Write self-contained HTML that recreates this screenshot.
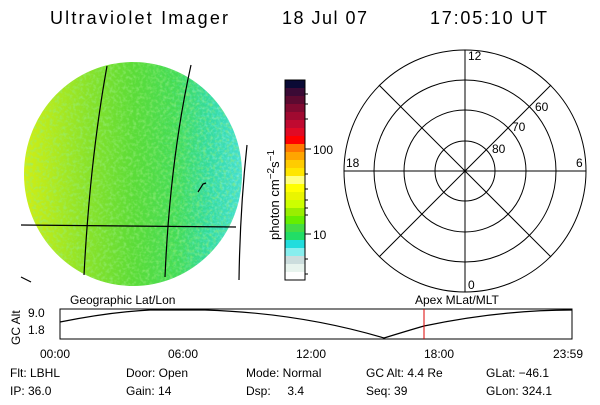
<!DOCTYPE html>
<html><head><style>
html,body{margin:0;padding:0;background:#fff;}
svg text{font-family:"Liberation Sans","DejaVu Sans",sans-serif;}
</style></head><body>
<svg width="600" height="400" xmlns="http://www.w3.org/2000/svg">
<defs>
<linearGradient id="g" x1="0" x2="1" y1="0" y2="0">
<stop offset="0" stop-color="#d0ee14"/>
<stop offset="0.12" stop-color="#b4ea1e"/>
<stop offset="0.3" stop-color="#88e22a"/>
<stop offset="0.5" stop-color="#5cdc38"/>
<stop offset="0.7" stop-color="#44dc55"/>
<stop offset="0.85" stop-color="#33dba0"/>
<stop offset="1" stop-color="#44dfd0"/>
</linearGradient>
<linearGradient id="m" x1="0" x2="1"><stop offset="0.55" stop-color="#000"/><stop offset="1" stop-color="#fff"/></linearGradient>
<mask id="mk"><rect x="0" y="60" width="260" height="230" fill="url(#m)"/></mask>
<filter id="n"><feTurbulence type="fractalNoise" baseFrequency="0.3" numOctaves="2" seed="3"/><feColorMatrix type="matrix" values="0 0 0 0 0.3  0 0 0 0 0.85  0 0 0 0 0.2  0 0 0 1.6 -0.7"/><feComposite in2="SourceGraphic" operator="in"/></filter>
<filter id="n2"><feTurbulence type="fractalNoise" baseFrequency="0.4" numOctaves="2" seed="8"/><feColorMatrix type="matrix" values="0 0 0 0 0.2  0 0 0 0 0.88  0 0 0 0 0.85  0 0 0 2 -0.9"/><feComposite in2="SourceGraphic" operator="in"/></filter>
<clipPath id="c"><ellipse cx="133" cy="174" rx="109" ry="112"/></clipPath>
</defs>
<g font-size="18" fill="#000">
<text x="50" y="24" textLength="178">Ultraviolet Imager</text>
<text x="282" y="24" textLength="85">18 Jul 07</text>
<text x="430" y="24" textLength="117">17:05:10 UT</text>
</g>
<ellipse cx="133" cy="174" rx="109" ry="112" fill="url(#g)"/>
<rect x="0" y="60" width="260" height="230" clip-path="url(#c)" filter="url(#n)" fill="#fff"/>
<g mask="url(#mk)"><rect x="0" y="60" width="260" height="230" clip-path="url(#c)" filter="url(#n2)" fill="#fff"/></g>
<g stroke="#000" stroke-width="1.2" fill="none">
<line x1="21" y1="225" x2="236" y2="227"/>
<path d="M107 66 Q90 160 84 275"/>
<path d="M191 65 Q170 160 165 277"/>
<path d="M247 145 Q240 210 239 280"/>
<path d="M198 192 L203 184 L206 183"/>
<line x1="21" y1="277" x2="31" y2="282"/>
</g>
<g>
<rect x="285" y="80" width="20" height="8" fill="#0a0a35"/>
<rect x="285" y="88" width="20" height="8" fill="#3a0a35"/>
<rect x="285" y="96" width="20" height="8" fill="#5c0a30"/>
<rect x="285" y="104" width="20" height="8" fill="#800a30"/>
<rect x="285" y="112" width="20" height="8" fill="#a00a30"/>
<rect x="285" y="120" width="20" height="8" fill="#c00a30"/>
<rect x="285" y="128" width="20" height="8" fill="#e00a25"/>
<rect x="285" y="136" width="20" height="8" fill="#ff0000"/>
<rect x="285" y="144" width="20" height="8" fill="#ff7700"/>
<rect x="285" y="152" width="20" height="8" fill="#ffa500"/>
<rect x="285" y="160" width="20" height="8" fill="#ffcc00"/>
<rect x="285" y="168" width="20" height="8" fill="#ffe600"/>
<rect x="285" y="176" width="20" height="8" fill="#ffff80"/>
<rect x="285" y="184" width="20" height="8" fill="#ffff00"/>
<rect x="285" y="192" width="20" height="8" fill="#eaf500"/>
<rect x="285" y="200" width="20" height="8" fill="#ccff00"/>
<rect x="285" y="208" width="20" height="8" fill="#99ee00"/>
<rect x="285" y="216" width="20" height="8" fill="#66ee00"/>
<rect x="285" y="224" width="20" height="8" fill="#44dd44"/>
<rect x="285" y="232" width="20" height="8" fill="#22dd66"/>
<rect x="285" y="240" width="20" height="8" fill="#22dddd"/>
<rect x="285" y="248" width="20" height="8" fill="#88eeee"/>
<rect x="285" y="256" width="20" height="8" fill="#ccdddd"/>
<rect x="285" y="264" width="20" height="8" fill="#e8f4ee"/>
<rect x="285" y="272" width="20" height="8" fill="#ffffff"/>
<rect x="285" y="80" width="20" height="200" fill="none" stroke="#000"/>
<g stroke="#000"><line x1="305" y1="149" x2="311" y2="149"/><line x1="305" y1="234" x2="311" y2="234"/>
<line x1="305" y1="94" x2="308" y2="94"/><line x1="305" y1="104" x2="308" y2="104"/><line x1="305" y1="119" x2="308" y2="119"/>
<line x1="305" y1="174" x2="308" y2="174"/><line x1="305" y1="189" x2="308" y2="189"/><line x1="305" y1="200" x2="308" y2="200"/><line x1="305" y1="208" x2="308" y2="208"/><line x1="305" y1="215" x2="308" y2="215"/><line x1="305" y1="259" x2="308" y2="259"/><line x1="305" y1="274" x2="308" y2="274"/></g>
<text x="313" y="154" font-size="12">100</text>
<text x="313" y="239" font-size="12">10</text>
<text transform="translate(279,240) rotate(-90)" font-size="13">photon cm<tspan dy="-5" font-size="10">−2</tspan><tspan dy="5">s</tspan><tspan dy="-5" font-size="10">−1</tspan></text>
</g>
<g stroke="#000" stroke-width="1" fill="none">
<circle cx="465" cy="171" r="121"/><circle cx="465" cy="171" r="91"/><circle cx="465" cy="171" r="61"/><circle cx="465" cy="171" r="30"/>
<line x1="344" y1="171" x2="586" y2="171"/><line x1="465" y1="50" x2="465" y2="292"/>
<line x1="379" y1="85" x2="551" y2="257"/><line x1="551" y1="85" x2="379" y2="257"/>
</g>
<g font-size="12">
<text x="468" y="60">12</text><text x="346" y="167">18</text><text x="576" y="167">6</text><text x="468" y="289">0</text>
<text x="535" y="111">60</text><text x="512" y="131">70</text><text x="492" y="153">80</text>
</g>
<text x="70" y="304" font-size="12">Geographic Lat/Lon</text>
<text x="415" y="304" font-size="12">Apex MLat/MLT</text>
<text transform="translate(20,345) rotate(-90)" font-size="12">GC Alt</text>
<text x="28" y="317" font-size="12">9.0</text>
<text x="28" y="334" font-size="12">1.8</text>
<rect x="60" y="309" width="512" height="30" fill="none" stroke="#000"/>
<path d="M60 322 Q110 312 150 310 L205 310 Q300 313 384 338 Q410 330 424 326 Q500 310 572 310" fill="none" stroke="#000" stroke-width="1.2"/>
<line x1="424" y1="309" x2="424" y2="339" stroke="#d00" stroke-width="1"/>
<g font-size="12">
<text x="40" y="358">00:00</text><text x="168" y="358">06:00</text><text x="296" y="358">12:00</text><text x="424" y="358">18:00</text><text x="553" y="358">23:59</text>
<text x="10" y="377">Flt: LBHL</text><text x="126" y="377">Door: Open</text><text x="246" y="377">Mode: Normal</text><text x="366" y="377">GC Alt: 4.4 Re</text><text x="486" y="377">GLat: −46.1</text>
<text x="10" y="395">IP: 36.0</text><text x="126" y="395">Gain: 14</text><text x="246" y="395">Dsp:&#160;&#160;&#160;&#160;&#160;3.4</text><text x="366" y="395">Seq: 39</text><text x="486" y="395">GLon: 324.1</text>
</g>
</svg>
</body></html>
